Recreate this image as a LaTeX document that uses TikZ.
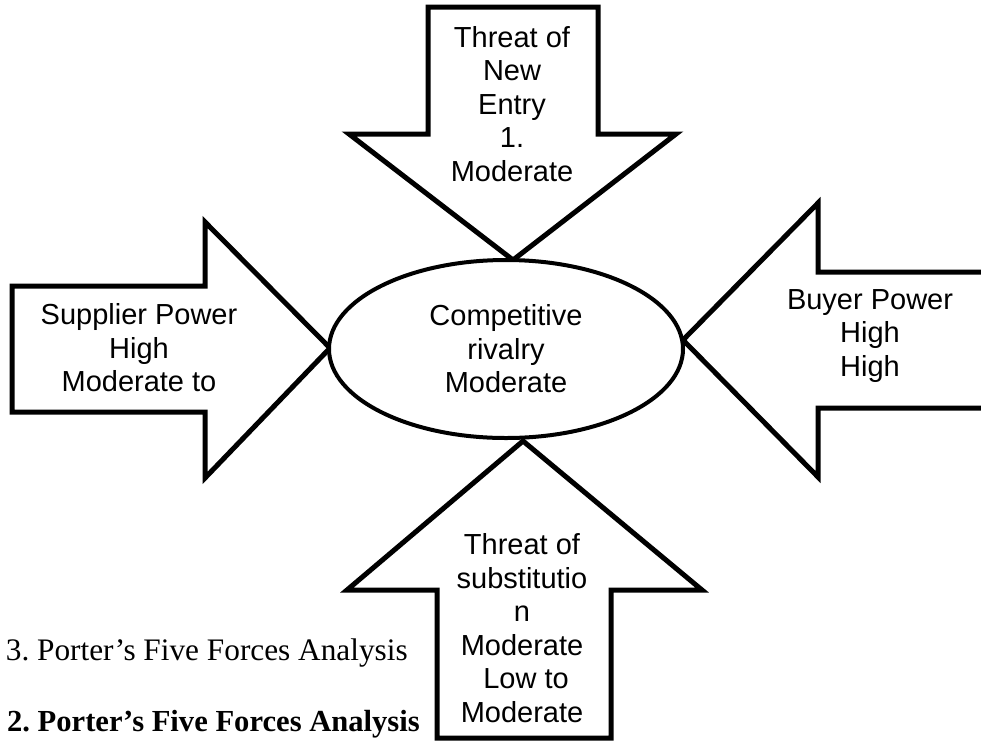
\documentclass[tikz,border=0pt]{standalone}
\usepackage{fontspec}
\setmainfont{Liberation Serif}
\newfontfamily\forcefont{Liberation Sans}
\usetikzlibrary{shapes.geometric}

\begin{document}
\begin{tikzpicture}[x=1pt,y=-1pt,
force/.style={draw=black,line width=5pt,fill=white,line join=miter},
forcetext/.style={font=\forcefont\fontsize{29}{33.5}\selectfont,align=center,inner sep=0pt},
caption/.style={font=\fontsize{31.3}{36}\selectfont,anchor=base east,inner sep=0pt}]
\useasboundingbox (0,0) rectangle (981,742);
\clip (0,0) rectangle (981,742);
% the four force arrows, tips on the rivalry ellipse
\draw[force] (428,7) -- (598,7) -- (598,134) -- (676,134) -- (513,260)
  -- (349,134) -- (428,134) -- cycle;
\draw[force] (12,286) -- (205,286) -- (205,222) -- (330,348) -- (205,478)
  -- (205,412) -- (12,412) -- cycle;
\draw[force] (995,272) -- (818,272) -- (818,203) -- (683,340) -- (818,477)
  -- (818,408) -- (995,408);
\draw[force] (437,738) -- (611,738) -- (611,590) -- (702,590) -- (523,441)
  -- (347,590) -- (437,590) -- cycle;
\node[ellipse,draw=black,line width=4pt,fill=white,minimum width=354pt,
  minimum height=178pt,forcetext] (rivalry) at (506,349)
  {Competitive\\rivalry\\Moderate};
\node[forcetext] (entry) at (512,104) {Threat of\\New\\Entry\\1.\\Moderate};
\node[forcetext] (supplier) at (139,348) {Supplier Power\\High\\Moderate to};
\node[forcetext] (buyer) at (870,336) {Buyer Power\\High\\High};
\node[forcetext] (substitute) at (522,628)
  {Threat of\\substitutio\\n\\Moderate\\\ Low to\\Moderate};
% caption lines below the chart
\node[caption] (caption3) at (408,660) {3.\ Porter’s Five Forces Analysis};
\node[caption,font=\bfseries\fontsize{30.6}{36}\selectfont] (caption2) at (420,731)
  {2.\ Porter’s Five Forces Analysis};
\end{tikzpicture}
\end{document}
